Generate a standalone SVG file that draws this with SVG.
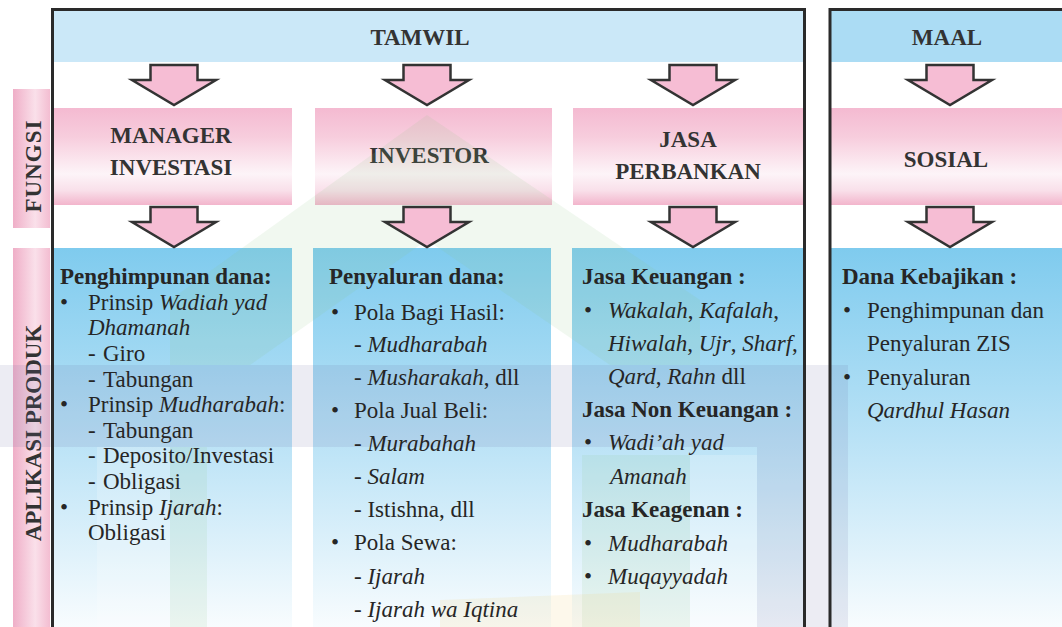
<svg xmlns="http://www.w3.org/2000/svg" width="1062" height="627" viewBox="0 0 1062 627">
<style>
.h{font-family:"Liberation Serif","Times New Roman",serif;font-weight:bold;font-size:23px;fill:#333;text-anchor:middle}
.s{font-family:"Liberation Serif","Times New Roman",serif;font-weight:bold;font-size:23px;fill:#333;text-anchor:middle;letter-spacing:1px}
.t{font-family:"Liberation Serif","Times New Roman",serif;font-size:23px;fill:#262626}
.b{font-weight:bold}
.i{font-style:italic}
.arrow{fill:#f6bdd4;stroke:#333;stroke-width:2.5;stroke-linejoin:miter}
.frame{fill:none;stroke:#2a2a2a;stroke-width:3}
.pink{fill:url(#pinkg)}
.blue{fill:url(#blueg)}
.side{fill:url(#sideg)}
</style>
<defs>
<linearGradient id="pinkg" x1="0" y1="0" x2="0" y2="1">
<stop offset="0" stop-color="#f4bad1"/>
<stop offset="0.3" stop-color="#f7cddd"/>
<stop offset="0.68" stop-color="#fdf4f8"/>
<stop offset="0.85" stop-color="#f9e0ea"/>
<stop offset="1" stop-color="#f2b5cc"/>
</linearGradient>
<linearGradient id="blueg" x1="0" y1="0" x2="0" y2="1">
<stop offset="0" stop-color="#7fcbee"/>
<stop offset="0.5" stop-color="#b9e2f6"/>
<stop offset="1" stop-color="#f8fcfe"/>
</linearGradient>
<linearGradient id="sideg" x1="0" y1="0" x2="1" y2="0">
<stop offset="0" stop-color="#efaec7"/>
<stop offset="0.6" stop-color="#fae0ea"/>
<stop offset="1" stop-color="#f3bdd1"/>
</linearGradient>
<path id="arr" d="M-23.5,0 H23.5 V15 H42 L0,40 L-42,15 H-23.5 Z"/>
</defs>
<rect width="1062" height="627" fill="#fff"/>

<g id="fungsi">
<rect class="side" x="13" y="89" width="37" height="139"/>
<text class="s" transform="translate(41,166) rotate(-90)">FUNGSI</text>
</g>
<g id="aplikasi-produk">
<rect class="side" x="13" y="248" width="37" height="379"/>
<text class="h" transform="translate(41,433) rotate(-90)">APLIKASI PRODUK</text>
</g>

<g id="tamwil">
<rect x="54" y="11" width="750" height="51" fill="#cbe8f8"/>
<text class="h" x="420" y="45">TAMWIL</text>
</g>
<g id="maal">
<rect x="831" y="11" width="231" height="51" fill="#abdcf4"/>
<text class="h" x="947" y="45">MAAL</text>
</g>

<g id="manager-investasi">
<rect class="pink" x="54" y="108" width="238" height="97"/>
<text class="h" x="171" y="143">MANAGER</text>
<text class="h" x="171" y="175">INVESTASI</text>
</g>
<g id="investor">
<rect class="pink" x="315" y="108" width="237" height="97"/>
<text class="h" x="429" y="163">INVESTOR</text>
</g>
<g id="jasa-perbankan">
<rect class="pink" x="573" y="108" width="231" height="97"/>
<text class="h" x="688" y="147">JASA</text>
<text class="h" x="688" y="179">PERBANKAN</text>
</g>
<g id="sosial">
<rect class="pink" x="831" y="108" width="231" height="97"/>
<text class="h" x="946" y="167">SOSIAL</text>
</g>

<g id="panels">
<rect class="blue" x="54" y="248" width="238" height="379"/>
<rect class="blue" x="313" y="248" width="238" height="379"/>
<rect class="blue" x="572" y="248" width="232" height="379"/>
<rect class="blue" x="831" y="248" width="231" height="379"/>
</g>

<g id="watermark">
<polygon points="427,115 700,300 700,365 610,365 427,240 250,365 170,365 170,300" fill="#8cc884" opacity="0.12"/>
<rect x="0" y="365" width="848" height="82" fill="#6a70a0" opacity="0.13"/>
<rect x="757" y="447" width="91" height="180" fill="#6a70a0" opacity="0.13"/>
<rect x="170" y="447" width="37" height="180" fill="#8cc884" opacity="0.12"/>
<rect x="582" y="455" width="108" height="172" fill="#8cc884" opacity="0.12"/>
<rect x="97" y="447" width="73" height="180" fill="#ffffff" opacity="0.2"/>
<rect x="690" y="455" width="67" height="172" fill="#ffffff" opacity="0.2"/>
<polygon points="440,600 640,592 640,627 440,627" fill="#f2d27a" opacity="0.15"/>
</g>

<g id="connectors">
<use href="#arr" class="arrow" x="174" y="65"/>
<use href="#arr" class="arrow" x="427" y="65"/>
<use href="#arr" class="arrow" x="693" y="65"/>
<use href="#arr" class="arrow" x="950" y="65"/>
<use href="#arr" class="arrow" x="174" y="207"/>
<use href="#arr" class="arrow" x="427" y="207"/>
<use href="#arr" class="arrow" x="693" y="207"/>
<use href="#arr" class="arrow" x="950" y="207"/>
</g>

<g id="frames">
<rect class="frame" x="52.5" y="9.5" width="752" height="640"/>
<rect class="frame" x="830" y="9.5" width="250" height="640"/>
</g>

<g id="penghimpunan-dana">
<text x="60" y="284" class="t b">Penghimpunan dana:</text>
<text x="60" y="310" class="t">•</text><text x="88" y="310" class="t">Prinsip <tspan class="i">Wadiah yad</tspan></text>
<text x="88" y="335" class="t i">Dhamanah</text>
<text x="88" y="361" class="t">-</text><text x="103" y="361" class="t">Giro</text>
<text x="88" y="387" class="t">-</text><text x="103" y="387" class="t">Tabungan</text>
<text x="60" y="412" class="t">•</text><text x="88" y="412" class="t">Prinsip <tspan class="i">Mudharabah</tspan>:</text>
<text x="88" y="438" class="t">-</text><text x="103" y="438" class="t">Tabungan</text>
<text x="88" y="463" class="t">-</text><text x="103" y="463" class="t">Deposito/Investasi</text>
<text x="88" y="489" class="t">-</text><text x="103" y="489" class="t">Obligasi</text>
<text x="60" y="515" class="t">•</text><text x="88" y="515" class="t">Prinsip <tspan class="i">Ijarah</tspan>:</text>
<text x="88" y="540" class="t">Obligasi</text>
</g>

<g id="penyaluran-dana">
<text x="329" y="284" class="t b">Penyaluran dana:</text>
<text x="331" y="320" class="t">•</text><text x="354" y="320" class="t">Pola Bagi Hasil:</text>
<text x="354" y="352" class="t">- <tspan class="i">Mudharabah</tspan></text>
<text x="354" y="385" class="t">- <tspan class="i">Musharakah</tspan>, dll</text>
<text x="331" y="418" class="t">•</text><text x="354" y="418" class="t">Pola Jual Beli:</text>
<text x="354" y="451" class="t">- <tspan class="i">Murabahah</tspan></text>
<text x="354" y="484" class="t">- <tspan class="i">Salam</tspan></text>
<text x="354" y="517" class="t">- Istishna, dll</text>
<text x="331" y="550" class="t">•</text><text x="354" y="550" class="t">Pola Sewa:</text>
<text x="354" y="584" class="t">- <tspan class="i">Ijarah</tspan></text>
<text x="354" y="617" class="t">- <tspan class="i">Ijarah wa Iqtina</tspan></text>
</g>

<g id="jasa-layanan">
<text x="582" y="284" class="t b">Jasa Keuangan :</text>
<text x="584" y="318" class="t">•</text><text x="608" y="318" class="t"><tspan class="i">Wakalah</tspan>, <tspan class="i">Kafalah</tspan>,</text>
<text x="608" y="351" class="t"><tspan class="i">Hiwalah</tspan>, <tspan class="i">Ujr</tspan>, <tspan class="i">Sharf</tspan>,</text>
<text x="608" y="384" class="t"><tspan class="i">Qard</tspan>, <tspan class="i">Rahn</tspan> dll</text>
<text x="582" y="417" class="t b">Jasa Non Keuangan :</text>
<text x="584" y="450" class="t">•</text><text x="608" y="450" class="t i">Wadi’ah yad</text>
<text x="610" y="484" class="t i">Amanah</text>
<text x="582" y="517" class="t b">Jasa Keagenan :</text>
<text x="584" y="551" class="t">•</text><text x="608" y="551" class="t i">Mudharabah</text>
<text x="584" y="584" class="t">•</text><text x="608" y="584" class="t i">Muqayyadah</text>
</g>

<g id="dana-kebajikan">
<text x="842" y="284" class="t b">Dana Kebajikan :</text>
<text x="843" y="318" class="t">•</text><text x="867" y="318" class="t">Penghimpunan dan</text>
<text x="867" y="351" class="t">Penyaluran ZIS</text>
<text x="843" y="385" class="t">•</text><text x="867" y="385" class="t">Penyaluran</text>
<text x="867" y="418" class="t i">Qardhul Hasan</text>
</g>
</svg>
